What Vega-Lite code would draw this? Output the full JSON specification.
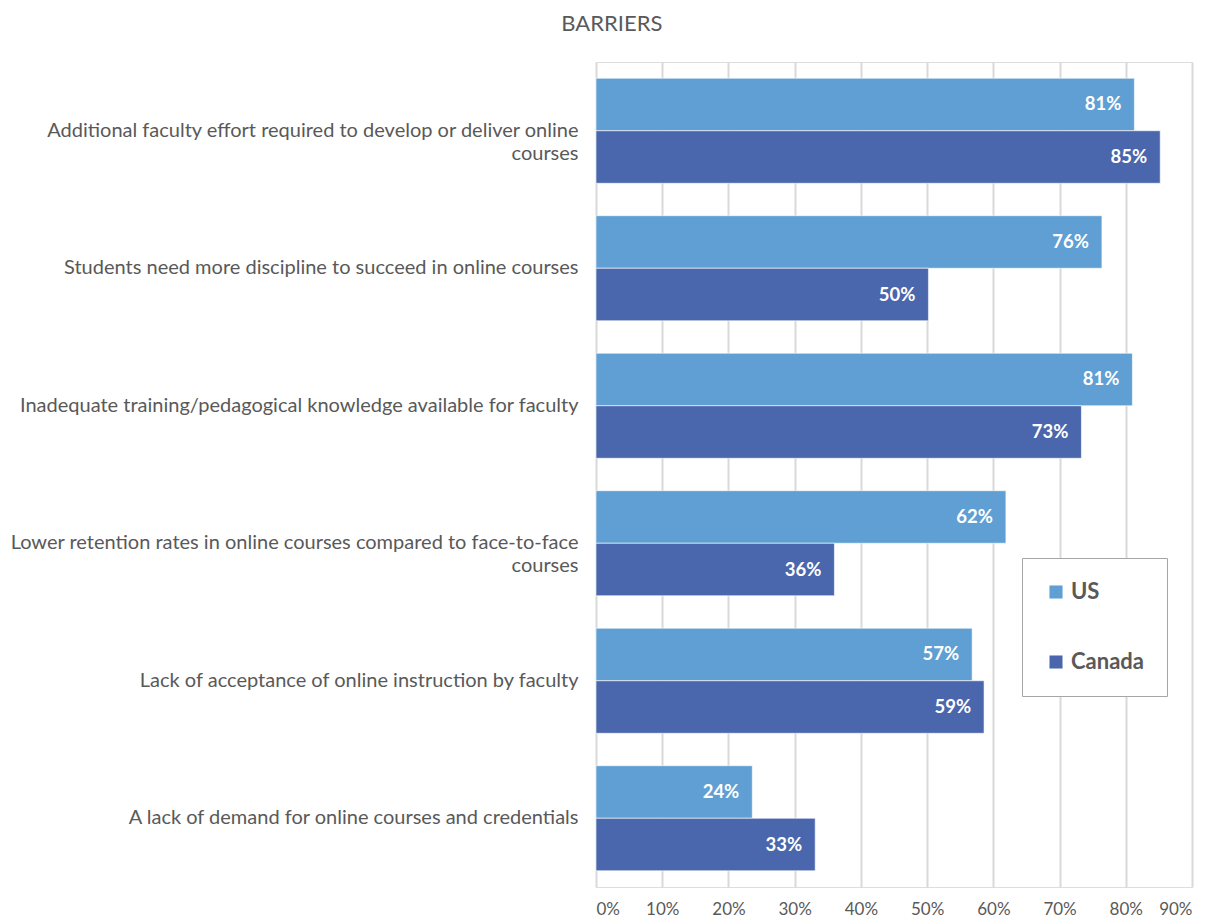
{
  "$schema": "https://vega.github.io/schema/vega-lite/v6.json",
  "autosize": {"type": "none"},
  "padding": {"left": 596, "top": 62, "right": 28, "bottom": 32},
  "width": 596,
  "height": 825,
  "background": "white",
  "title": {
    "text": "BARRIERS",
    "fontSize": 22,
    "font": "Lato",
    "fontWeight": "normal",
    "color": "#595959",
    "anchor": "middle",
    "frame": "bounds",
    "dx": 11,
    "offset": 26
  },
  "data": {
    "values": [
      {"barrier": "Additional faculty effort required to develop or deliver online|courses", "country": "US", "value": 0.813},
      {"barrier": "Additional faculty effort required to develop or deliver online|courses", "country": "Canada", "value": 0.852},
      {"barrier": "Students need more discipline to succeed in online courses", "country": "US", "value": 0.764},
      {"barrier": "Students need more discipline to succeed in online courses", "country": "Canada", "value": 0.502},
      {"barrier": "Inadequate training/pedagogical knowledge available for faculty", "country": "US", "value": 0.81},
      {"barrier": "Inadequate training/pedagogical knowledge available for faculty", "country": "Canada", "value": 0.733},
      {"barrier": "Lower retention rates in online courses compared to face-to-face|courses", "country": "US", "value": 0.619},
      {"barrier": "Lower retention rates in online courses compared to face-to-face|courses", "country": "Canada", "value": 0.36},
      {"barrier": "Lack of acceptance of online instruction by faculty", "country": "US", "value": 0.568},
      {"barrier": "Lack of acceptance of online instruction by faculty", "country": "Canada", "value": 0.586},
      {"barrier": "A lack of demand for online courses and credentials", "country": "US", "value": 0.236},
      {"barrier": "A lack of demand for online courses and credentials", "country": "Canada", "value": 0.331}
    ]
  },
  "encoding": {
    "y": {
      "field": "barrier",
      "type": "nominal",
      "sort": null,
      "scale": {"paddingInner": 0.236, "paddingOuter": 0.118},
      "axis": {
        "title": null,
        "ticks": false,
        "domain": false,
        "labelPadding": 18,
        "labelLimit": 700,
        "labelFont": "Lato",
        "labelFontSize": 20,
        "labelColor": "#595959",
        "labelLineHeight": 23,
        "labelExpr": "split(datum.label, '|')"
      }
    },
    "yOffset": {"field": "country", "type": "nominal", "sort": ["US", "Canada"], "scale": {"paddingInner": 0, "paddingOuter": 0}},
    "x": {
      "field": "value",
      "type": "quantitative",
      "scale": {"domain": [0, 0.9], "nice": false},
      "axis": {
        "title": null,
        "format": ".0%",
        "values": [0, 0.1, 0.2, 0.3, 0.4, 0.5, 0.6, 0.7, 0.8, 0.9],
        "ticks": false,
        "domain": false,
        "grid": true,
        "gridColor": "#d9d9d9",
        "gridWidth": 2,
        "labelFont": "Lato",
        "labelFontSize": 17,
        "labelColor": "#595959",
        "labelPadding": 14
      }
    }
  },
  "layer": [
    {
      "mark": {"type": "bar", "stroke": "white", "strokeWidth": 0.6},
      "encoding": {
        "color": {
          "field": "country",
          "type": "nominal",
          "scale": {"domain": ["US", "Canada"], "range": ["#5f9fd3", "#4a66ad"]},
          "legend": {
            "title": null,
            "orient": "none",
            "legendX": 426,
            "legendY": 496,
            "padding": 23,
            "strokeColor": "#a6a6a6",
            "fillColor": "white",
            "symbolType": "square",
            "symbolSize": 170,
            "symbolStrokeWidth": 0,
            "labelFont": "Lato",
            "labelFontSize": 22,
            "labelFontWeight": "bold",
            "labelColor": "#595959",
            "labelOffset": 4,
            "rowPadding": 48
          }
        }
      }
    },
    {
      "mark": {"type": "text", "align": "right", "dx": -13, "font": "Lato", "fontSize": 18.5, "fontWeight": "bold", "color": "white"},
      "encoding": {
        "text": {"field": "value", "type": "quantitative", "format": ".0%"}
      }
    }
  ]
}
